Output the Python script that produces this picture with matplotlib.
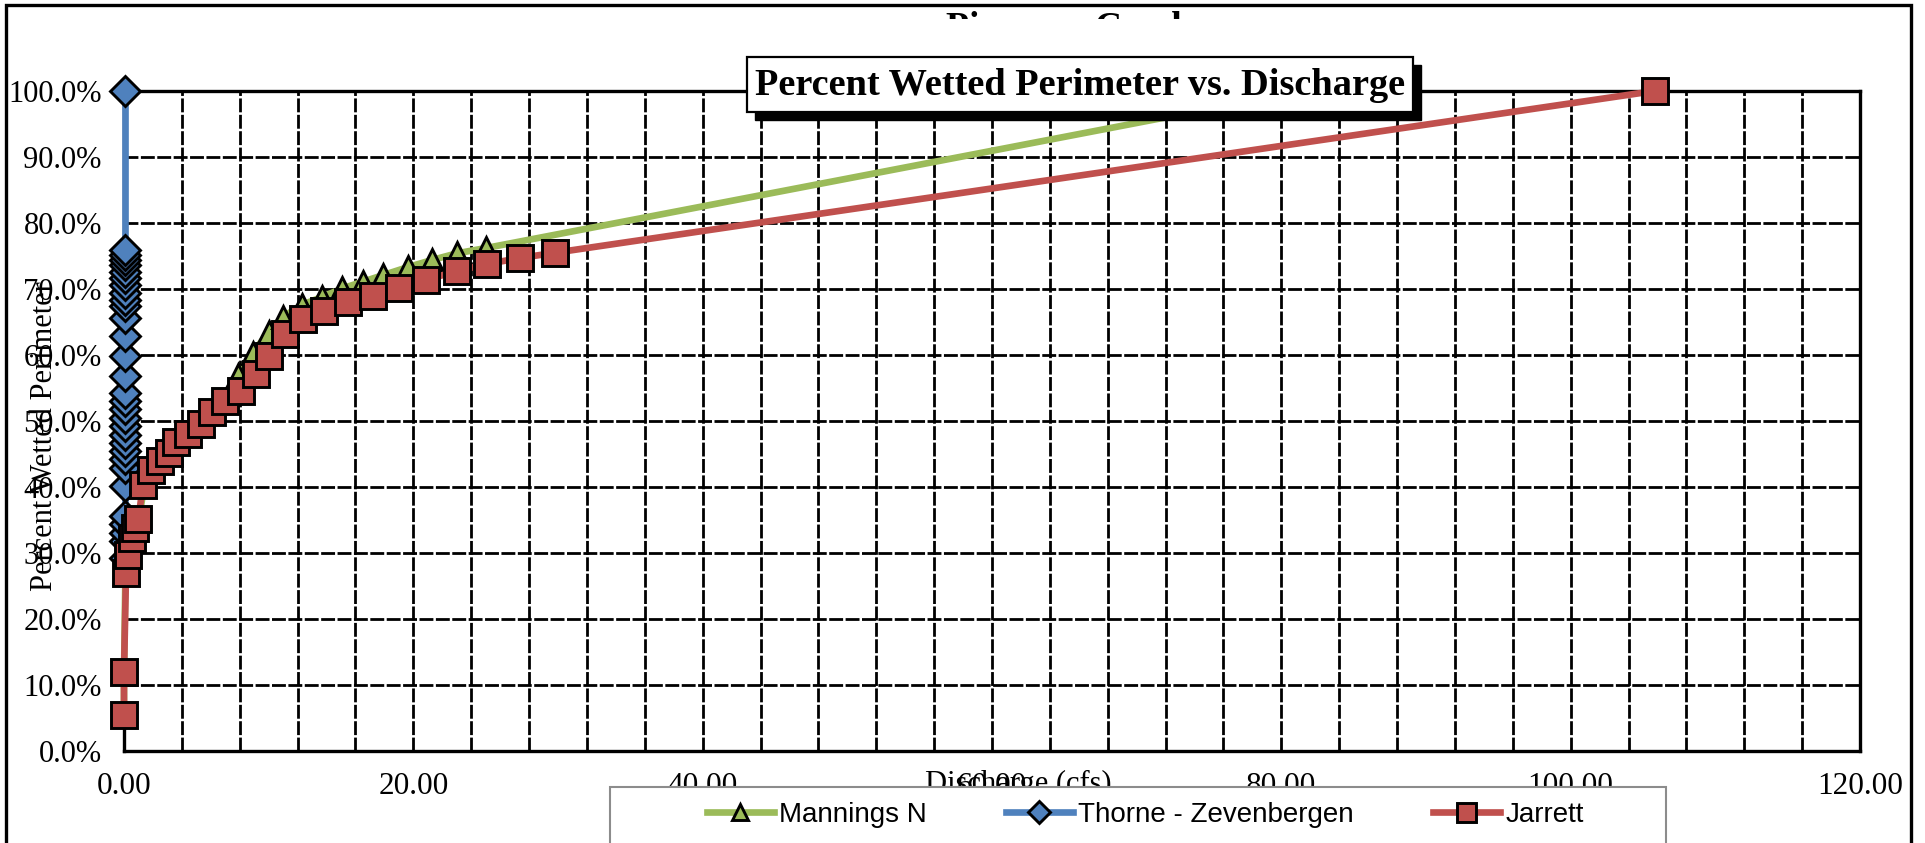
import matplotlib
matplotlib.use("Agg")
import matplotlib.pyplot as plt
from matplotlib.ticker import MultipleLocator, PercentFormatter, FormatStrFormatter
from matplotlib.patches import Rectangle

# ---------------- data ----------------
mannings_x = [0.0, 0.0, 0.1, 0.2, 0.4, 0.7, 1.0, 1.4, 1.9, 2.5, 3.1, 3.6, 4.4, 5.3, 6.1, 7.0,
              7.9, 8.9, 10.0, 11.0, 12.3, 13.7, 15.1, 16.5, 17.9, 19.6, 21.3, 23.0, 25.0, 81.5]
mannings_y = [5.4, 11.9, 27.0, 29.0, 31.8, 33.5, 34.8, 40.1, 42.6, 43.9, 45.2, 46.8, 48.1, 49.6, 51.3, 53.0,
              57.0, 60.3, 63.5, 65.8, 67.6, 68.8, 70.1, 71.1, 72.1, 73.3, 74.4, 75.4, 76.2, 100.0]

thorne_x = [0.05] * 31
thorne_y = [29.2, 31.8, 33.1, 34.4, 35.6, 40.2, 42.9, 44.2, 45.5, 46.7, 47.9, 49.2, 50.5, 51.8, 53.0,
            54.3, 56.8, 59.8, 62.9, 65.6, 67.4, 68.4, 69.4, 70.6, 71.6, 72.6, 73.6, 74.4, 75.2, 75.9, 100.0]

jarrett_x = [0.0, 0.0, 0.14, 0.3, 0.55, 0.76, 1.0, 1.3, 1.9, 2.5, 3.1, 3.6, 4.4, 5.3, 6.1, 7.0, 8.1,
             9.1, 10.0, 11.1, 12.4, 13.8, 15.5, 17.2, 19.0, 20.9, 23.0, 25.1, 27.4, 29.8, 105.8]
jarrett_y = [5.4, 11.9, 27.0, 29.7, 32.3, 33.8, 35.1, 40.3, 42.6, 43.9, 45.2, 46.8, 48.1, 49.6, 51.3, 53.0, 54.5,
             57.1, 59.9, 63.2, 65.4, 66.7, 68.0, 69.0, 70.1, 71.4, 72.7, 73.8, 74.7, 75.5, 100.0]

series_labels = ["Mannings N", "Thorne - Zevenbergen", "Jarrett"]
x_ticks = [0, 20, 40, 60, 80, 100, 120]
y_ticks = [0, 10, 20, 30, 40, 50, 60, 70, 80, 90, 100]

# ---------------- figure ----------------
W, H = 1925, 843
fig = plt.figure(figsize=(W / 100, H / 100), dpi=100)
fig.patch.set_facecolor("white")

def fx(px):
    return px / W

def fy(py):
    return 1 - py / H

serif = ["Liberation Serif", "DejaVu Serif"]
sans = ["Liberation Sans", "DejaVu Sans"]

ax_l, ax_r, ax_t, ax_b = 124, 1860, 91, 751
ax = fig.add_axes([fx(ax_l), fy(ax_b), (ax_r - ax_l) / W, (ax_b - ax_t) / H])

green = "#9BBB59"
blue = "#4F81BD"
red = "#C0504D"

LW = 4.8
MEW = 2.1
l1, = ax.plot(mannings_x, mannings_y, color=green, lw=LW, marker="^", markersize=16,
              markerfacecolor=green, markeredgecolor="black", markeredgewidth=MEW,
              clip_on=False, zorder=3, label=series_labels[0])
l2, = ax.plot(thorne_x, thorne_y, color=blue, lw=LW, marker="D", markersize=15.5,
              markerfacecolor=blue, markeredgecolor="black", markeredgewidth=MEW,
              clip_on=False, zorder=4, label=series_labels[1])
l3, = ax.plot(jarrett_x, jarrett_y, color=red, lw=LW, marker="s", markersize=19,
              markerfacecolor=red, markeredgecolor="black", markeredgewidth=MEW,
              clip_on=False, zorder=5, label=series_labels[2])

ax.set_xlim(0, 120)
ax.set_ylim(0, 100)
ax.set_xticks(x_ticks)
ax.set_yticks(y_ticks)
ax.xaxis.set_minor_locator(MultipleLocator(4))
ax.xaxis.set_major_formatter(FormatStrFormatter("%.2f"))
ax.yaxis.set_major_formatter(PercentFormatter(100, decimals=1))

grid_kw = dict(color="black", lw=2.0, linestyle=(0, (5, 0.9)))
ax.grid(True, which="both", axis="x", **grid_kw)
ax.grid(True, which="major", axis="y", **grid_kw)
ax.set_axisbelow(True)

for s in ax.spines.values():
    s.set_linewidth(2.4)
    s.set_color("black")

ax.tick_params(axis="both", which="both", length=0)
ax.tick_params(axis="x", pad=15, labelsize=22.5)
ax.tick_params(axis="y", pad=16, labelsize=22)
for lab in ax.get_xticklabels() + ax.get_yticklabels():
    lab.set_fontfamily(serif)

# axis labels
fig.text(fx(45), fy(436), "Percent Wetted Perimeter", rotation=90, ha="center", va="center",
         fontsize=22, family=serif, zorder=3)
fig.text(fx(1018), fy(792), "Discharge (cfs)", ha="center", va="baseline",
         fontsize=22, family=serif, zorder=3)

# hidden top title (mostly covered)
fig.text(fx(946), fy(38), "Piceance Creek", ha="left", va="baseline",
         fontsize=27, family=serif, fontweight="bold", zorder=2)
fig.patches.append(Rectangle((fx(880), fy(56)), fx(400), (56 - 19.5) / H, transform=fig.transFigure,
                             facecolor="white", edgecolor="none", zorder=2.5))

# title box with shadow
bx0, bx1, by0, by1 = 747, 1413, 57, 112
fig.patches.append(Rectangle((fx(bx0 + 8), fy(by1 + 8)), fx(bx1 - bx0), (by1 - by0) / H,
                             transform=fig.transFigure, facecolor="black", edgecolor="black", zorder=6))
fig.patches.append(Rectangle((fx(bx0), fy(by1)), fx(bx1 - bx0), (by1 - by0) / H,
                             transform=fig.transFigure, facecolor="white", edgecolor="black",
                             lw=1.6, zorder=7))
fig.text(fx((bx0 + bx1) / 2), fy((by0 + by1) / 2 + 1), "Percent Wetted Perimeter vs. Discharge",
         ha="center", va="center", fontsize=27.6, family=serif, fontweight="bold", zorder=8)

# legend frame
fig.patches.append(Rectangle((fx(610), fy(860)), fx(1666 - 610), (860 - 787) / H,
                             transform=fig.transFigure, facecolor="white", edgecolor="#8C8C8C",
                             lw=1.5, zorder=4))
leg = fig.legend(handles=[l1, l2, l3], labels=series_labels, loc="center left",
                 bbox_to_anchor=(fx(707), fy(815)), ncol=3, frameon=False,
                 prop={"family": sans, "size": 20}, handlelength=2.4, handletextpad=0.2,
                 columnspacing=2.85, borderaxespad=0, borderpad=0, markerscale=0.72)
leg.set_zorder(5)

# outer chart border
fig.patches.append(Rectangle((fx(6), fy(870)), fx(1911 - 6), (870 - 5) / H,
                             transform=fig.transFigure, facecolor="none", edgecolor="black",
                             lw=2.4, zorder=9))

fig.savefig("out.png", dpi=100)
